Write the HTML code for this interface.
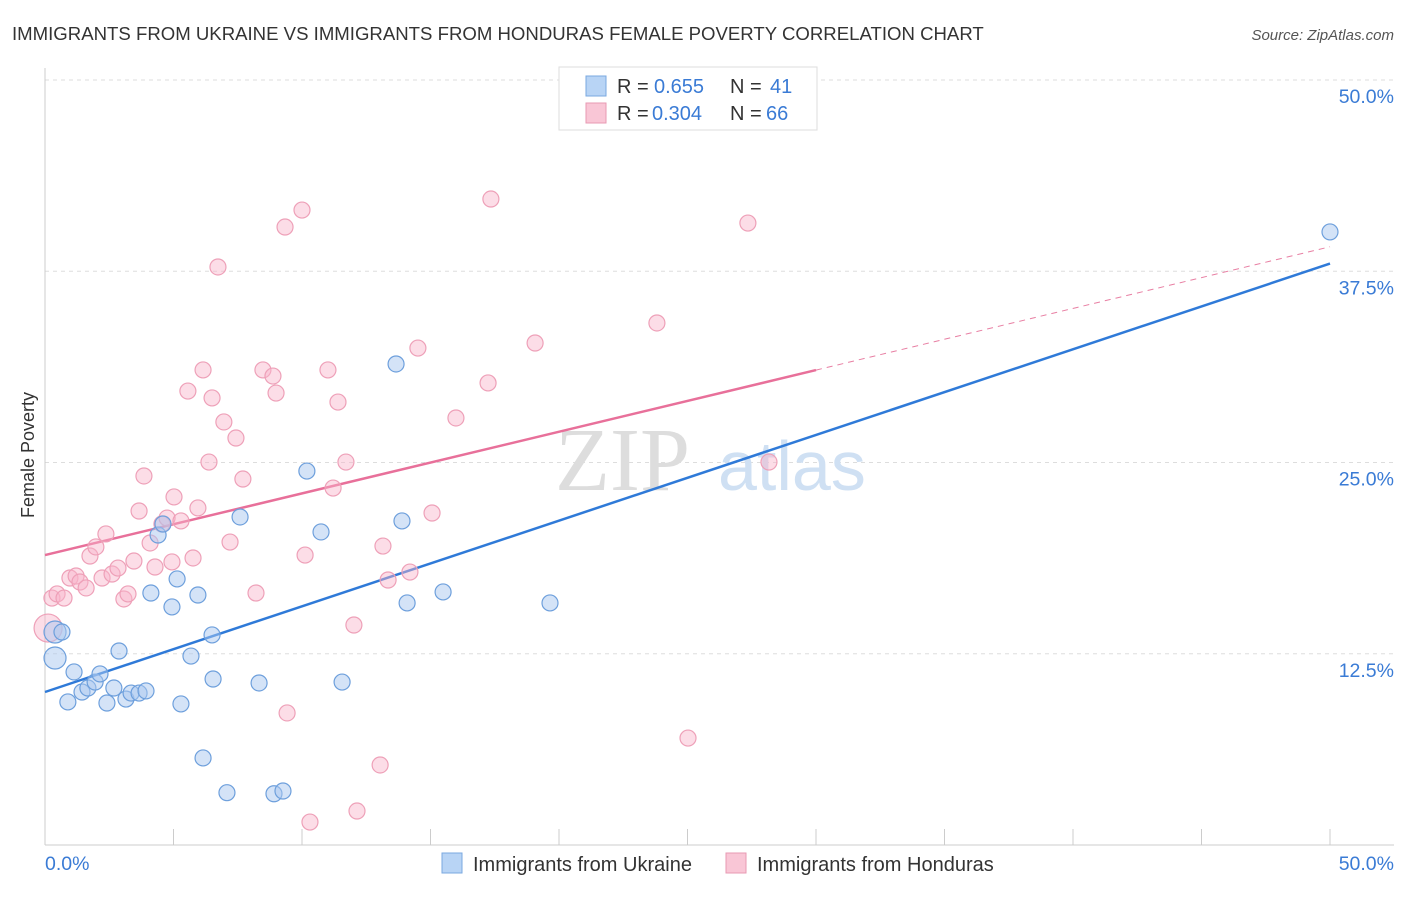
<!DOCTYPE html>
<html><head><meta charset="utf-8">
<style>
body{margin:0;background:#fff;font-family:"Liberation Sans",sans-serif;}
</style></head>
<body>
<svg width="1406" height="892" xmlns="http://www.w3.org/2000/svg">
<text x="12" y="40" font-size="18.6" fill="#333">IMMIGRANTS FROM UKRAINE VS IMMIGRANTS FROM HONDURAS FEMALE POVERTY CORRELATION CHART</text>
<text x="1394" y="40" font-size="15" fill="#555" font-style="italic" text-anchor="end">Source: ZipAtlas.com</text>
<g id="grid"></g>
<g id="axes"></g>
<text x="555" y="490" font-size="90" fill="#ddd" font-family="Liberation Serif">ZIP</text>
<text x="718" y="490" font-size="70" fill="#cfe0f3">atlas</text>
<g id="lines"></g>
<g id="pts"></g>
<text transform="translate(34,455) rotate(-90)" font-size="18" fill="#333" text-anchor="middle">Female Poverty</text>
<g>
<rect x="559" y="67" width="258" height="63" fill="#fff" stroke="#ddd"/>
<rect x="586" y="76" width="20" height="20" fill="#b8d4f5" stroke="#7aa8e0"/>
<rect x="586" y="103" width="20" height="20" fill="#f9c6d6" stroke="#e89ab3"/>
<text x="617" y="93" font-size="20" fill="#333">R =</text>
<text x="654" y="93" font-size="20" fill="#3a7bd5">0.655</text>
<text x="730" y="93" font-size="20" fill="#333">N =</text>
<text x="770" y="93" font-size="20" fill="#3a7bd5">41</text>
<text x="617" y="120" font-size="20" fill="#333">R =</text>
<text x="652" y="120" font-size="20" fill="#3a7bd5">0.304</text>
<text x="730" y="120" font-size="20" fill="#333">N =</text>
<text x="766" y="120" font-size="20" fill="#3a7bd5">66</text>
</g>
<g>
<rect x="442" y="853" width="20" height="20" fill="#b8d4f5" stroke="#7aa8e0"/>
<text x="473" y="871" font-size="20" fill="#333">Immigrants from Ukraine</text>
<rect x="726" y="853" width="20" height="20" fill="#f9c6d6" stroke="#e89ab3"/>
<text x="757" y="871" font-size="20" fill="#333">Immigrants from Honduras</text>
</g>
</svg>
<script>
const yTicks=[12.5,25,37.5,50];
const yTickLabels=["12.5%","25.0%","37.5%","50.0%"];
const xTickLabels=["0.0%","50.0%"];
const ukraineX=[0.39,0.39,0.66,0.89,1.13,1.44,1.67,1.95,2.14,2.41,2.68,2.88,3.15,3.35,3.66,3.93,4.12,4.40,4.59,4.94,5.14,5.29,5.68,5.95,6.15,6.50,6.54,7.08,7.59,8.33,8.91,9.26,10.19,10.74,11.56,13.66,13.89,14.09,15.49,19.65,50.0];
const ukraineY=[13.92,12.22,13.92,9.35,11.31,10.0,10.26,10.65,11.18,9.28,10.26,12.68,9.54,9.93,9.93,10.07,16.47,20.26,20.98,15.56,17.39,9.22,12.35,16.34,5.69,13.73,10.85,3.42,21.44,10.59,3.35,3.53,24.44,20.46,10.65,31.44,21.18,15.82,16.54,15.82,40.07];
const hondurasX=[0.12,0.27,0.47,0.74,0.97,1.21,1.36,1.60,1.75,1.98,2.22,2.37,2.61,2.84,3.07,3.23,3.46,3.66,3.85,4.09,4.28,4.55,4.75,4.94,5.02,5.29,5.56,5.76,5.95,6.15,6.38,6.50,6.73,6.96,7.20,7.43,7.70,8.21,8.48,8.87,8.99,9.34,9.42,10.0,10.12,10.31,11.01,11.21,11.40,11.71,12.02,12.14,13.04,13.15,13.35,14.20,14.51,15.06,15.99,17.24,17.35,19.07,23.81,25.02,27.35,28.17];
const hondurasY=[14.18,16.14,16.41,16.14,17.45,17.58,17.19,16.80,18.89,19.48,17.45,20.33,17.71,18.10,16.08,16.41,18.56,21.83,24.12,19.74,18.17,20.98,21.37,18.50,22.75,21.18,29.67,18.76,22.03,31.05,25.03,29.22,37.78,27.65,19.80,26.60,23.92,16.47,31.05,30.65,29.54,40.39,8.63,41.50,18.95,1.50,31.05,23.33,28.95,25.03,14.38,2.22,5.23,19.54,17.32,17.84,32.48,21.70,27.91,30.20,42.22,32.81,34.12,6.99,40.65,25.03];
const ukraineTrend=[10.0,38.0];
const hondurasTrend=[18.95,39.1];
const hondurasSolidEnd=30.0;

const NS="http://www.w3.org/2000/svg";
const X=v=>45+v*25.7, Y=v=>845-v*15.3;
function mk(tag,attrs,parent){const e=document.createElementNS(NS,tag);for(const k in attrs)e.setAttribute(k,attrs[k]);document.getElementById(parent).appendChild(e);return e;}
yTicks.forEach((t,i)=>{
  const g=mk('line',{x1:45,x2:1394,y1:Y(t),y2:Y(t),stroke:'#ddd','stroke-dasharray':'4,4'},'grid');
  
  
  const tx=mk('text',{x:1394,y:Y(t)+23,'font-size':19.5,fill:'#3a7bd5','text-anchor':'end'},'axes');
  tx.textContent=yTickLabels[i];
  
  
});
const ax=mk('line',{x1:45,x2:45,y1:68,y2:845,stroke:'#ccc'},'axes');


const bx=mk('line',{x1:45,x2:1394,y1:845,y2:845,stroke:'#ccc'},'axes');


for(let i=0;i<=10;i++){
  const t=mk('line',{x1:X(i*5),x2:X(i*5),y1:829,y2:845,stroke:'#ccc'},'axes');
  
  
}
[[0,'start',45],[50,'end',1394]].forEach((d,i)=>{
  const t=mk('text',{x:d[2],y:870,'font-size':19.5,fill:'#3a7bd5','text-anchor':d[1]},'axes');
  t.textContent=xTickLabels[i];
  
  
});
const hy=x=>hondurasTrend[0]+(hondurasTrend[1]-hondurasTrend[0])*x/50;
let l=mk('line',{x1:X(hondurasSolidEnd),y1:Y(hy(hondurasSolidEnd)),x2:X(50),y2:Y(hondurasTrend[1]),stroke:'#e87fa3','stroke-width':1,'stroke-dasharray':'6,5'},'lines');


l=mk('line',{x1:X(0),y1:Y(hondurasTrend[0]),x2:X(hondurasSolidEnd),y2:Y(hy(hondurasSolidEnd)),stroke:'#e8709a','stroke-width':2.5},'lines');


l=mk('line',{x1:X(0),y1:Y(ukraineTrend[0]),x2:X(50),y2:Y(ukraineTrend[1]),stroke:'#2f7ad8','stroke-width':2.5},'lines');


hondurasX.forEach((x,i)=>{
  const c=mk('circle',{cx:X(x),cy:Y(hondurasY[i]),r:i==0?14:8,fill:'rgba(248,180,202,0.45)',stroke:'#eea0b8','stroke-width':1.2},'pts');
  
  
});
ukraineX.forEach((x,i)=>{
  const c=mk('circle',{cx:X(x),cy:Y(ukraineY[i]),r:i<2?11:8,fill:'rgba(170,200,240,0.5)',stroke:'#6d9fdc','stroke-width':1.2},'pts');
  
  
});
</script>
</body></html>
